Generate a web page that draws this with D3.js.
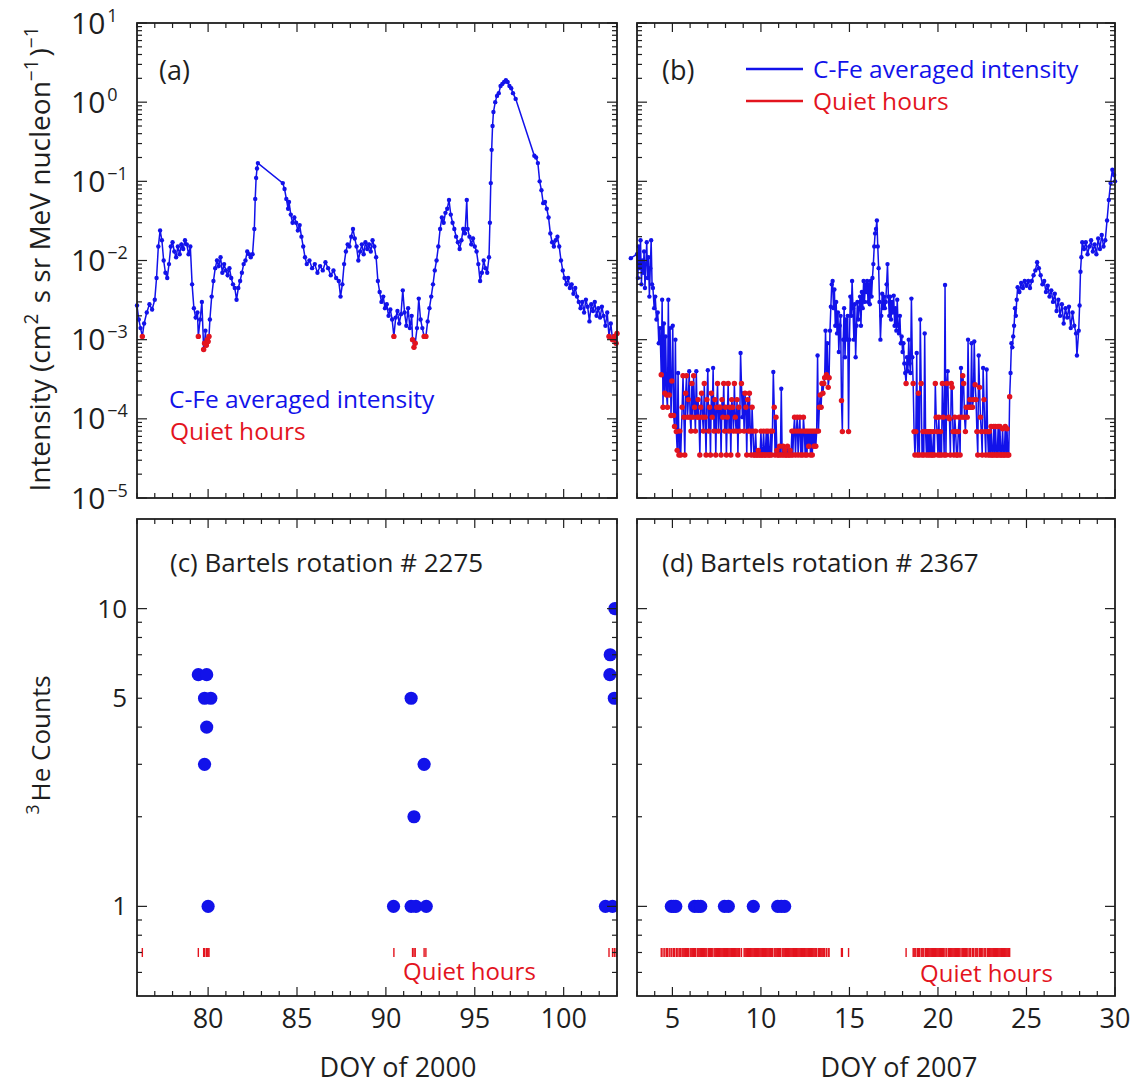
<!DOCTYPE html>
<html><head><meta charset="utf-8">
<script src="https://cdn.jsdelivr.net/npm/d3@7"></script>
<style>
body{margin:0;background:#fff;}
svg{display:block;font-family:'Open Sans','Noto Sans',sans-serif;}
</style></head><body>
<svg id="chart" width="1136" height="1087"></svg>
<script>
// ---------------- DATA ----------------
// C-Fe averaged intensity, Bartels rotation 2275 (DOY of 2000): [doy, intensity, quietHour(1/0)]
const intensity2000 = [
[76.00,2.7e-3,0],[76.10,1.8e-3,0],[76.20,1.4e-3,0],[76.30,1.1e-3,1],[76.40,1.6e-3,0],[76.55,2.2e-3,0],[76.70,2.8e-3,0],[76.85,2.4e-3,0],
[77.00,3.2e-3,0],[77.10,6.0e-3,0],[77.20,1.5e-2,0],[77.30,2.4e-2,0],[77.40,1.8e-2,0],[77.50,1.0e-2,0],[77.60,7.0e-3,0],[77.70,6.0e-3,0],
[77.80,9.0e-3,0],[77.90,1.5e-2,0],[78.00,1.7e-2,0],[78.10,1.3e-2,0],[78.20,1.1e-2,0],[78.30,1.5e-2,0],[78.40,1.2e-2,0],[78.50,1.6e-2,0],
[78.60,1.4e-2,0],[78.70,1.8e-2,0],[78.80,1.6e-2,0],[78.90,1.2e-2,0],[79.00,1.5e-2,0],[79.10,5.0e-3,0],[79.20,2.5e-3,0],[79.30,1.9e-3,0],
[79.40,2.2e-3,0],[79.45,1.1e-3,1],[79.55,1.8e-3,0],[79.65,3.0e-3,0],[79.75,7.5e-4,1],[79.80,9.0e-4,1],[79.85,1.3e-3,0],[79.90,8.5e-4,1],
[79.95,1.0e-3,1],[80.00,9.5e-4,1],[80.05,1.1e-3,1],[80.10,1.8e-3,0],[80.20,3.5e-3,0],[80.30,5.5e-3,0],[80.40,8.0e-3,0],[80.50,1.0e-2,0],
[80.60,8.5e-3,0],[80.70,1.1e-2,0],[80.80,7.0e-3,0],[80.90,9.0e-3,0],[81.00,7.5e-3,0],[81.10,6.5e-3,0],[81.20,8.0e-3,0],[81.30,6.0e-3,0],
[81.40,5.0e-3,0],[81.50,4.5e-3,0],[81.60,3.2e-3,0],[81.70,4.5e-3,0],[81.80,5.5e-3,0],[81.90,7.0e-3,0],[82.00,9.0e-3,0],[82.10,1.0e-2,0],
[82.20,1.3e-2,0],[82.30,1.2e-2,0],[82.40,1.1e-2,0],[82.50,1.2e-2,0],[82.60,2.5e-2,0],[82.65,6.0e-2,0],[82.70,1.1e-1,0],[82.75,1.45e-1,0],
[82.80,1.7e-1,0],
[84.20,9.5e-2,0],[84.30,8.0e-2,0],[84.40,6.0e-2,0],[84.50,4.5e-2,0],[84.55,5.5e-2,0],[84.65,3.8e-2,0],[84.75,3.0e-2,0],[84.85,3.5e-2,0],
[84.95,3.0e-2,0],[85.05,2.4e-2,0],[85.15,2.8e-2,0],[85.25,2.0e-2,0],[85.35,1.5e-2,0],[85.45,1.1e-2,0],[85.55,9.0e-3,0],[85.70,1.0e-2,0],
[85.85,8.0e-3,0],[86.00,9.0e-3,0],[86.15,7.0e-3,0],[86.30,8.5e-3,0],[86.45,7.5e-3,0],[86.60,9.5e-3,0],[86.75,8.0e-3,0],[86.90,6.5e-3,0],
[87.05,7.5e-3,0],[87.20,6.0e-3,0],[87.35,5.5e-3,0],[87.45,3.5e-3,0],[87.55,5.0e-3,0],[87.65,9.0e-3,0],[87.75,1.3e-2,0],[87.85,1.6e-2,0],
[87.95,1.5e-2,0],[88.05,2.0e-2,0],[88.15,2.5e-2,0],[88.25,1.9e-2,0],[88.35,1.5e-2,0],[88.45,1.0e-2,0],[88.55,1.3e-2,0],[88.65,1.6e-2,0],
[88.75,1.2e-2,0],[88.85,1.7e-2,0],[88.95,1.4e-2,0],[89.05,1.6e-2,0],[89.15,1.3e-2,0],[89.25,1.8e-2,0],[89.35,1.5e-2,0],[89.45,1.1e-2,0],
[89.55,5.5e-3,0],[89.65,4.0e-3,0],[89.75,3.0e-3,0],[89.85,3.5e-3,0],[89.95,2.5e-3,0],[90.05,2.8e-3,0],[90.15,2.0e-3,0],[90.25,2.4e-3,0],
[90.35,1.8e-3,0],[90.45,1.1e-3,1],[90.55,1.9e-3,0],[90.65,2.3e-3,0],[90.75,1.6e-3,0],[90.85,2.1e-3,0],[90.95,4.2e-3,0],[91.05,2.2e-3,0],
[91.15,1.5e-3,0],[91.25,2.5e-3,0],[91.35,1.4e-3,0],[91.45,2.0e-3,0],[91.50,1.0e-3,1],[91.58,8.0e-4,1],[91.65,9.0e-4,1],[91.75,1.4e-3,0],
[91.85,3.3e-3,0],[91.95,1.8e-3,0],[92.05,1.4e-3,0],[92.15,1.1e-3,1],[92.25,1.1e-3,1],[92.35,1.7e-3,0],[92.45,2.5e-3,0],[92.55,3.5e-3,0],
[92.65,5.0e-3,0],[92.75,7.5e-3,0],[92.85,1.0e-2,0],[92.95,1.5e-2,0],[93.05,2.5e-2,0],[93.15,3.5e-2,0],[93.25,3.0e-2,0],[93.35,4.0e-2,0],
[93.45,4.5e-2,0],[93.55,5.8e-2,0],[93.65,3.8e-2,0],[93.75,3.0e-2,0],[93.85,2.5e-2,0],[93.95,2.0e-2,0],[94.05,1.7e-2,0],[94.15,1.4e-2,0],
[94.25,1.8e-2,0],[94.35,2.5e-2,0],[94.45,2.2e-2,0],[94.55,5.8e-2,0],[94.60,2.5e-2,0],[94.70,2.0e-2,0],[94.80,1.6e-2,0],[94.90,1.9e-2,0],
[95.00,1.5e-2,0],[95.10,1.3e-2,0],[95.20,9.0e-3,0],[95.30,5.5e-3,0],[95.40,7.0e-3,0],[95.50,1.0e-2,0],[95.60,8.0e-3,0],[95.70,7.0e-3,0],
[95.80,1.1e-2,0],[95.85,3.0e-2,0],[95.90,9.5e-2,0],[95.95,2.5e-1,0],[96.00,5.0e-1,0],[96.05,7.5e-1,0],[96.15,1.0,0],[96.25,1.2,0],
[96.35,1.3,0],[96.45,1.6,0],[96.55,1.7,0],[96.65,1.8,0],[96.75,1.9,0],[96.85,1.8,0],[96.95,1.6,0],[97.05,1.5,0],[97.15,1.3,0],[97.30,1.1,0],
[98.35,2.1e-1,0],[98.45,2.0e-1,0],[98.55,1.7e-1,0],[98.65,1.0e-1,0],[98.75,7.7e-2,0],[98.85,5.3e-2,0],[98.95,5.5e-2,0],[99.05,4.5e-2,0],
[99.15,3.5e-2,0],[99.25,2.2e-2,0],[99.35,1.7e-2,0],[99.45,1.5e-2,0],[99.55,1.8e-2,0],[99.65,2.0e-2,0],[99.75,1.5e-2,0],[99.85,1.0e-2,0],
[99.95,7.5e-3,0],[100.05,6.0e-3,0],[100.15,5.0e-3,0],[100.25,6.0e-3,0],[100.35,4.5e-3,0],[100.45,5.0e-3,0],[100.55,3.8e-3,0],[100.65,4.5e-3,0],
[100.75,3.5e-3,0],[100.85,3.0e-3,0],[100.95,2.5e-3,0],[101.05,3.0e-3,0],[101.15,2.2e-3,0],[101.25,3.2e-3,0],[101.35,2.6e-3,0],[101.45,1.7e-3,0],
[101.55,2.8e-3,0],[101.65,2.3e-3,0],[101.75,3.0e-3,0],[101.85,2.0e-3,0],[101.95,2.5e-3,0],[102.05,1.9e-3,0],[102.15,2.6e-3,0],[102.25,2.0e-3,0],
[102.35,1.5e-3,0],[102.45,2.2e-3,0],[102.55,1.1e-3,1],[102.65,1.6e-3,0],[102.75,1.0e-3,1],[102.85,1.1e-3,1],[102.95,9.0e-4,1],[103.00,1.2e-3,1]
];

// C-Fe averaged intensity, Bartels rotation 2367 (DOY of 2007): [doy, intensity, quietHour(1/0)]
const intensity2007 = [
[2.65,1.07e-2,0],
[3.00,1.2e-2,0],[3.05,6.0e-3,0],[3.10,1.5e-2,0],[3.15,8.0e-3,0],[3.20,1.8e-2,0],[3.25,5.0e-3,0],[3.30,1.0e-2,0],[3.35,7.0e-3,0],
[3.40,1.3e-2,0],[3.45,4.5e-3,0],[3.50,9.0e-3,0],[3.55,1.7e-2,0],[3.60,6.0e-3,0],[3.65,1.1e-2,0],[3.70,3.5e-3,0],[3.75,8.0e-3,0],
[3.80,1.8e-2,0],[3.85,5.0e-3,0],[3.90,4.5e-3,0],[3.97,2.5e-3,0],[4.03,3.5e-3,0],[4.10,1.8e-3,0],[4.17,2.2e-3,0],[4.23,9.0e-4,0],
[4.30,1.4e-3,0],[4.37,3.6e-4,1],[4.42,3.2e-3,0],[4.47,1.4e-4,1],[4.52,1.6e-3,0],[4.57,2.1e-4,1],[4.62,1.1e-3,0],[4.67,2.0e-4,1],
[4.72,1.4e-4,1],[4.77,3.2e-3,0],[4.82,2.0e-4,1],[4.87,1.4e-3,0],[4.92,1.1e-4,1],[4.97,3.0e-4,1],[5.02,1.5e-3,0],[5.07,1.1e-4,1],
[5.12,8.0e-5,1],[5.17,1.0e-3,0],[5.22,6.9e-5,1],[5.27,4.0e-5,1],[5.32,3.8e-4,0],[5.37,3.5e-5,1],[5.42,7.0e-5,1],[5.47,3.5e-5,1],
[5.55,1.4e-4,1],[5.60,3.5e-4,1],[5.65,1.05e-4,1],[5.70,3.5e-5,1],[5.75,2.1e-4,1],[5.80,3.5e-4,1],[5.85,1.05e-4,1],[5.90,1.75e-4,1],
[5.95,4.0e-4,0],[6.00,1.05e-4,1],[6.05,7.0e-5,1],[6.10,2.8e-4,1],[6.15,1.05e-4,1],[6.20,3.5e-4,1],[6.25,1.4e-4,1],[6.30,7.0e-5,1],
[6.35,4.0e-4,0],[6.40,1.05e-4,1],[6.45,1.75e-4,1],[6.50,1.05e-4,1],[6.55,3.5e-5,1],[6.60,1.4e-4,1],[6.65,2.1e-4,1],[6.70,1.05e-4,1],
[6.75,7.0e-5,1],[6.80,2.8e-4,1],[6.85,1.05e-4,1],[6.90,3.5e-5,1],[6.95,1.75e-4,1],[7.00,4.1e-4,0],[7.05,7.0e-5,1],[7.10,1.4e-4,1],
[7.15,3.5e-5,1],[7.20,2.1e-4,1],[7.25,1.05e-4,1],[7.30,4.4e-4,0],[7.35,7.0e-5,1],[7.40,1.75e-4,1],[7.45,3.5e-5,1],[7.50,1.4e-4,1],
[7.55,2.8e-4,1],[7.60,7.0e-5,1],[7.65,1.4e-4,1],[7.70,1.4e-4,1],[7.75,3.5e-5,1],[7.80,1.75e-4,1],[7.85,1.05e-4,1],[7.90,2.8e-4,1],
[7.95,7.0e-5,1],[8.00,1.4e-4,1],[8.05,3.5e-5,1],[8.10,1.05e-4,1],[8.15,2.8e-4,1],[8.20,7.0e-5,1],[8.25,1.4e-4,1],[8.30,3.5e-5,1],
[8.35,1.75e-4,1],[8.40,1.4e-4,1],[8.45,7.0e-5,1],[8.50,2.8e-4,1],[8.55,1.05e-4,1],[8.60,7.0e-5,1],[8.65,1.75e-4,1],[8.70,3.5e-5,1],
[8.75,1.4e-4,1],[8.80,7.0e-5,1],[8.85,6.8e-4,0],[8.90,2.8e-4,1],[8.95,1.05e-4,0],[9.00,2.1e-4,0],[9.05,7.0e-5,1],[9.10,2.1e-4,1],
[9.15,1.4e-4,1],[9.20,3.5e-5,1],[9.25,1.75e-4,1],[9.30,7.0e-5,1],[9.35,2.1e-4,1],[9.40,7.0e-5,1],[9.45,3.5e-5,1],[9.50,1.4e-4,1],
[9.55,7.0e-5,1],[9.60,3.5e-5,1],[9.65,3.5e-5,1],[9.70,7.0e-5,1],[9.75,3.5e-5,1],[9.80,3.5e-5,1],[9.85,4.0e-5,1],[9.90,3.5e-5,1],
[9.95,3.5e-5,1],[10.00,7.0e-5,1],[10.05,3.5e-5,1],[10.10,3.5e-5,1],[10.15,7.0e-5,1],[10.20,3.5e-5,1],[10.25,3.5e-5,1],[10.30,7.0e-5,1],
[10.35,3.5e-5,1],[10.40,7.0e-5,1],[10.45,3.5e-5,1],[10.50,3.5e-5,1],[10.55,7.0e-5,1],[10.60,3.5e-5,1],[10.65,7.0e-5,1],[10.70,3.9e-4,0],
[10.75,1.4e-4,1],[10.80,3.5e-5,1],[10.85,1.05e-4,1],[10.90,4.0e-5,1],[10.95,3.5e-5,1],[11.00,3.5e-5,1],[11.05,4.5e-5,1],[11.10,3.5e-5,1],
[11.15,2.4e-4,0],[11.20,3.5e-5,1],[11.25,4.5e-5,1],[11.30,3.5e-5,1],[11.35,4.0e-5,1],[11.40,3.5e-5,1],[11.45,3.5e-5,1],[11.50,4.5e-5,1],
[11.55,3.5e-5,1],[11.60,3.5e-5,1],[11.65,4.0e-5,1],[11.70,3.5e-5,1],[11.75,7.0e-5,1],[11.80,3.5e-5,1],[11.85,7.0e-5,1],[11.90,1.05e-4,1],
[11.95,3.5e-5,1],[12.00,7.0e-5,1],[12.05,1.05e-4,1],[12.10,3.5e-5,1],[12.15,7.0e-5,1],[12.20,1.05e-4,1],[12.25,3.5e-5,1],[12.30,7.0e-5,1],
[12.35,3.5e-5,1],[12.40,1.05e-4,1],[12.45,7.0e-5,1],[12.50,3.5e-5,1],[12.55,7.0e-5,1],[12.60,3.5e-5,1],[12.65,7.0e-5,1],[12.70,4.5e-5,1],
[12.75,7.0e-5,1],[12.80,3.5e-5,1],[12.85,7.0e-5,1],[12.90,3.5e-5,1],[12.95,7.0e-5,1],[13.00,4.5e-5,1],[13.05,7.0e-5,1],[13.10,4.5e-5,1],
[13.15,7.0e-5,1],[13.20,6.3e-4,0],[13.25,7.0e-5,1],[13.30,1.4e-4,1],[13.35,2.0e-4,1],[13.40,1.4e-4,1],[13.45,2.8e-4,1],[13.50,2.1e-4,1],
[13.55,2.8e-4,1],[13.60,3.3e-4,1],[13.65,1.3e-3,0],[13.70,3.6e-4,1],[13.75,9.0e-4,0],[13.80,2.5e-4,1],[13.85,3.3e-4,1],[13.90,1.3e-3,0],
[13.95,2.6e-3,0],[14.00,5.0e-3,0],[14.05,5.5e-3,0],[14.10,2.5e-3,0],[14.15,4.3e-3,0],[14.20,1.5e-3,0],[14.25,3.0e-3,0],[14.30,1.2e-3,0],
[14.35,2.2e-3,0],[14.40,7.0e-4,0],[14.45,1.5e-3,0],[14.50,2.0e-3,0],[14.55,1.7e-4,1],[14.60,6.9e-5,1],[14.65,1.0e-3,0],[14.70,2.5e-3,0],
[14.75,6.0e-4,0],[14.80,1.8e-3,0],[14.85,1.0e-3,0],[14.90,2.0e-3,0],[14.95,6.9e-5,1],[15.00,1.0e-3,0],[15.05,3.5e-3,0],[15.10,2.0e-3,0],
[15.15,5.5e-3,0],[15.20,2.5e-3,0],[15.25,1.0e-3,0],[15.30,2.8e-3,0],[15.35,6.0e-4,0],[15.40,1.5e-3,0],[15.45,3.0e-3,0],[15.50,1.8e-3,0],
[15.55,2.5e-3,0],[15.60,3.5e-3,0],[15.65,1.5e-3,0],[15.70,4.0e-3,0],[15.75,2.5e-3,0],[15.80,5.5e-3,0],[15.85,3.0e-3,0],[15.90,5.0e-3,0],
[15.95,4.0e-3,0],[16.00,5.5e-3,0],[16.05,3.0e-3,0],[16.10,5.0e-3,0],[16.15,2.8e-3,0],[16.20,5.5e-3,0],[16.25,3.5e-3,0],[16.30,6.0e-3,0],
[16.35,9.0e-3,0],[16.40,1.5e-2,0],[16.45,2.2e-2,0],[16.50,2.5e-2,0],[16.55,3.2e-2,0],[16.60,1.5e-2,0],[16.65,8.0e-3,0],[16.70,3.0e-3,0],
[16.75,1.0e-3,0],[16.80,2.0e-3,0],[16.85,3.8e-3,0],[16.90,2.5e-3,0],[16.95,3.5e-3,0],[17.00,2.5e-3,0],[17.05,3.0e-3,0],[17.10,5.0e-3,0],
[17.15,9.0e-3,0],[17.20,3.5e-3,0],[17.25,2.0e-3,0],[17.30,3.5e-3,0],[17.35,1.8e-3,0],[17.40,3.0e-3,0],[17.45,2.2e-3,0],[17.50,3.6e-3,0],
[17.55,1.5e-3,0],[17.60,2.5e-3,0],[17.65,1.3e-3,0],[17.70,3.2e-3,0],[17.75,1.5e-3,0],[17.80,1.2e-3,0],[17.85,2.0e-3,0],[17.90,9.0e-4,0],
[17.95,1.1e-3,0],[18.00,7.0e-4,0],[18.05,9.0e-4,0],[18.10,5.0e-4,0],[18.15,3.8e-4,0],[18.20,2.8e-4,1],[18.25,6.0e-4,0],[18.30,4.0e-4,0],
[18.35,1.0e-3,0],[18.40,5.0e-4,0],[18.45,3.8e-4,0],[18.50,3.3e-3,0],[18.55,6.0e-4,0],[18.60,2.8e-4,1],[18.65,6.9e-5,1],[18.70,3.5e-5,1],
[18.75,6.9e-5,1],[18.80,6.8e-4,0],[18.85,3.5e-5,1],[18.90,2.1e-4,1],[18.95,3.5e-5,1],[19.00,1.8e-3,0],[19.05,2.8e-4,1],[19.10,3.5e-5,1],
[19.15,6.9e-5,1],[19.20,3.5e-5,1],[19.25,1.2e-3,0],[19.30,6.9e-5,1],[19.35,3.5e-5,1],[19.40,6.9e-5,1],[19.45,3.5e-5,1],[19.50,6.9e-5,1],
[19.55,3.5e-5,1],[19.60,6.9e-5,1],[19.65,3.5e-5,1],[19.70,3.5e-5,1],[19.75,6.9e-5,1],[19.80,3.5e-5,1],[19.85,2.8e-4,1],[19.90,1.05e-4,1],
[19.95,6.9e-5,1],[20.00,3.5e-5,1],[20.05,1.05e-4,1],[20.10,3.5e-5,1],[20.15,6.9e-5,1],[20.20,3.5e-5,1],[20.25,2.8e-4,1],[20.30,1.05e-4,1],
[20.35,3.5e-5,1],[20.40,4.9e-3,0],[20.45,3.5e-5,1],[20.50,2.8e-4,1],[20.55,4.0e-4,0],[20.60,1.05e-4,1],[20.65,1.0e-4,1],[20.70,3.5e-5,1],
[20.75,2.8e-4,1],[20.80,2.5e-4,1],[20.85,6.9e-5,1],[20.90,3.5e-5,1],[20.95,1.05e-4,1],[21.00,6.9e-5,1],[21.05,3.5e-5,1],[21.10,3.5e-5,1],
[21.15,6.9e-5,1],[21.20,1.05e-4,1],[21.25,3.5e-5,1],[21.30,4.4e-4,0],[21.35,1.05e-4,1],[21.40,3.5e-4,1],[21.45,2.8e-4,1],[21.50,1.05e-4,1],
[21.55,6.9e-5,1],[21.60,1.4e-4,1],[21.65,1.05e-4,1],[21.70,1.0e-3,0],[21.75,1.4e-4,1],[21.80,1.75e-4,1],[21.85,1.4e-4,1],[21.90,9.0e-4,0],
[21.95,1.4e-4,1],[22.00,1.75e-4,1],[22.05,9.5e-4,0],[22.10,2.7e-4,1],[22.15,1.75e-4,1],[22.20,6.9e-5,1],[22.25,3.5e-5,1],[22.30,6.3e-4,0],
[22.35,2.5e-4,1],[22.40,1.05e-4,1],[22.45,6.9e-5,1],[22.50,3.5e-5,1],[22.55,4.4e-4,0],[22.60,1.75e-4,1],[22.65,6.9e-5,1],[22.70,3.5e-5,1],
[22.75,4.2e-4,0],[22.80,6.9e-5,1],[22.85,3.5e-5,1],[22.90,6.9e-5,1],[22.95,3.5e-5,1],[23.00,8.0e-5,1],[23.05,3.5e-5,1],[23.10,3.5e-5,1],
[23.15,8.0e-5,1],[23.20,3.5e-5,1],[23.25,8.0e-5,1],[23.30,3.5e-5,1],[23.35,3.5e-5,1],[23.40,8.0e-5,1],[23.45,3.5e-5,1],[23.50,8.0e-5,1],
[23.55,3.5e-5,1],[23.60,3.5e-5,1],[23.65,7.5e-5,1],[23.70,3.5e-5,1],[23.75,3.5e-5,1],[23.80,8.0e-5,1],[23.85,3.5e-5,1],[23.90,7.5e-5,1],
[23.95,3.5e-5,1],[24.00,3.5e-5,1],[24.05,1.9e-4,1],[24.10,3.8e-4,0],[24.15,9.0e-4,0],[24.20,8.0e-4,0],[24.25,1.1e-3,0],[24.30,1.5e-3,0],
[24.35,2.5e-3,0],[24.40,2.0e-3,0],[24.45,3.2e-3,0],[24.50,4.6e-3,0],[24.60,4.0e-3,0],[24.70,5.2e-3,0],[24.80,4.5e-3,0],[24.90,5.5e-3,0],
[25.00,4.8e-3,0],[25.10,5.5e-3,0],[25.20,4.5e-3,0],[25.30,5.5e-3,0],[25.40,6.5e-3,0],[25.50,7.5e-3,0],[25.60,9.5e-3,0],[25.70,8.0e-3,0],
[25.80,6.5e-3,0],[25.90,5.0e-3,0],[26.00,5.5e-3,0],[26.10,4.0e-3,0],[26.20,4.8e-3,0],[26.30,3.5e-3,0],[26.40,4.2e-3,0],[26.50,3.0e-3,0],
[26.60,3.8e-3,0],[26.70,2.3e-3,0],[26.80,3.2e-3,0],[26.90,2.0e-3,0],[27.00,2.8e-3,0],[27.10,1.6e-3,0],[27.20,2.5e-3,0],[27.30,1.9e-3,0],
[27.40,2.6e-3,0],[27.50,1.4e-3,0],[27.60,2.2e-3,0],[27.70,1.5e-3,0],[27.80,1.2e-3,0],[27.85,6.3e-4,0],[27.95,1.3e-3,0],[28.00,2.7e-3,0],
[28.05,7.2e-3,0],[28.10,1.1e-2,0],[28.15,1.7e-2,0],[28.25,1.4e-2,0],[28.35,1.7e-2,0],[28.45,1.2e-2,0],[28.55,1.5e-2,0],[28.65,1.8e-2,0],
[28.75,1.3e-2,0],[28.85,1.6e-2,0],[28.95,1.2e-2,0],[29.05,1.9e-2,0],[29.15,1.4e-2,0],[29.25,2.1e-2,0],[29.35,1.5e-2,0],[29.45,1.8e-2,0],
[29.55,3.2e-2,0],[29.65,5.8e-2,0],[29.75,9.5e-2,0],[29.85,1.4e-1,0],[29.95,1.2e-1,0],[30.00,1.0e-1,0]
];

// 3He counts: [doy, counts]
const he3Counts2000 = [
[79.45,6],[79.92,6],[79.80,5],[80.15,5],[79.92,4],[79.80,3],[80.00,1],
[91.42,5],[92.15,3],[91.58,2],[90.43,1],[91.42,1],[91.69,1],[92.27,1],
[102.88,10],[102.62,7],[102.60,6],[102.85,5],[102.35,1],[102.75,1]
];
const he3Counts2007 = [
[4.94,1],[5.07,1],[5.19,1],[6.25,1],[6.45,1],[6.60,1],[7.94,1],[8.16,1],[9.57,1],[10.95,1],[11.15,1],[11.34,1]
];

const doyRange2000 = [76, 103];
const doyRange2007 = [3, 30];
const xTickLabels2000 = [80, 85, 90, 95, 100];
const xTickLabels2007 = [5, 10, 15, 20, 25, 30];
const intensityRange = [1e-5, 10];
const intensityTickExponents = [1, 0, -1, -2, -3, -4, -5];
const countsRange = [0.5, 20];
const countsTickLabels = [1, 5, 10];
const quietMarkLevel = 0.7;
const panelTitles = ["(a)", "(b)", "(c) Bartels rotation # 2275", "(d) Bartels rotation # 2367"];
const seriesNames = ["C-Fe averaged intensity", "Quiet hours"];
const xAxisTitles = ["DOY of 2000", "DOY of 2007"];

// ---------------- DRAWING ----------------
const svg = d3.select("#chart");
const BLUE = "#1212ea", RED = "#e3141e", INK = "#1e1e1e";

const boxes = {
  a: {x0:137, x1:617, y0:23, y1:498},
  b: {x0:637, x1:1115, y0:23, y1:498},
  c: {x0:137, x1:617, y0:519, y1:996},
  d: {x0:637, x1:1115, y0:519, y1:996}
};

const xA = d3.scaleLinear().domain(doyRange2000).range([boxes.a.x0, boxes.a.x1]);
const xB = d3.scaleLinear().domain(doyRange2007).range([boxes.b.x0, boxes.b.x1]);
const yA = d3.scaleLog().domain(intensityRange).range([boxes.a.y1, boxes.a.y0]);
const yB = d3.scaleLog().domain(intensityRange).range([boxes.b.y1, boxes.b.y0]);
const yC = d3.scaleLog().domain(countsRange).range([boxes.c.y1, boxes.c.y0]);
const yD = d3.scaleLog().domain(countsRange).range([boxes.d.y1, boxes.d.y0]);

const defs = svg.append("defs");
Object.entries(boxes).forEach(([k,b]) => {
  defs.append("clipPath").attr("id","clip-"+k).append("rect")
    .attr("x",b.x0).attr("y",b.y0).attr("width",b.x1-b.x0).attr("height",b.y1-b.y0);
});

function logTicks(domain) {
  const majors = [], minors = [];
  const e0 = Math.floor(Math.log10(domain[0])), e1 = Math.ceil(Math.log10(domain[1]));
  for (let e = e0; e <= e1; e++) {
    const base = Math.pow(10, e);
    if (base >= domain[0] && base <= domain[1]) majors.push(base);
    for (let k = 2; k <= 9; k++) {
      const v = k * base;
      if (v > domain[0] * 1.0001 && v < domain[1]) minors.push(v);
    }
  }
  return {majors, minors};
}

function drawFrameTicks(b, x, y, xMajors, yLogDomain, noMinorAbove) {
  const g = svg.append("g").attr("stroke", INK).attr("stroke-width", 1.2).attr("fill","none");
  const [d0, d1] = x.domain();
  d3.range(Math.ceil(d0), Math.floor(d1) + 1).forEach(v => {
    const L = xMajors.includes(v) ? 9 : 5;
    const px = x(v);
    g.append("line").attr("x1",px).attr("x2",px).attr("y1",b.y1).attr("y2",b.y1-L);
    g.append("line").attr("x1",px).attr("x2",px).attr("y1",b.y0).attr("y2",b.y0+L);
  });
  const t = logTicks(yLogDomain);
  const minors = t.minors.filter(v => noMinorAbove === undefined || v < noMinorAbove);
  t.majors.forEach(v => {
    const py = y(v);
    g.append("line").attr("x1",b.x0).attr("x2",b.x0+10).attr("y1",py).attr("y2",py);
    g.append("line").attr("x1",b.x1).attr("x2",b.x1-10).attr("y1",py).attr("y2",py);
  });
  minors.forEach(v => {
    const py = y(v);
    g.append("line").attr("x1",b.x0).attr("x2",b.x0+5).attr("y1",py).attr("y2",py);
    g.append("line").attr("x1",b.x1).attr("x2",b.x1-5).attr("y1",py).attr("y2",py);
  });
  svg.append("rect").attr("x",b.x0).attr("y",b.y0).attr("width",b.x1-b.x0).attr("height",b.y1-b.y0)
    .attr("fill","none").attr("stroke",INK).attr("stroke-width",1.8);
}

function drawSeries(data, x, y) {
  const g = svg.append("g");
  const line = d3.line().x(d => x(d[0])).y(d => y(d[1]));
  g.append("path").datum(data).attr("d", line).attr("fill","none").attr("stroke",BLUE).attr("stroke-width",1.5);
  g.selectAll("circle.pt").data(data).join("circle").attr("class","pt")
    .attr("cx", d => x(d[0])).attr("cy", d => y(d[1])).attr("r", 2.2).attr("fill", BLUE);
  g.selectAll("circle.q").data(data.filter(d => d[2] === 1)).join("circle").attr("class","q")
    .attr("cx", d => x(d[0])).attr("cy", d => y(d[1])).attr("r", 2.7).attr("fill", RED);
}

function drawCounts(counts, quietSrc, x, y, clipId) {
  const g = svg.append("g").attr("clip-path", "url(#" + clipId + ")");
  g.selectAll("rect.q").data(quietSrc.filter(d => d[2] === 1)).join("rect").attr("class","q")
    .attr("x", d => x(d[0]) - 0.7).attr("width", 1.4)
    .attr("y", y(quietMarkLevel) - 4.5).attr("height", 9).attr("fill", RED);
  g.selectAll("circle").data(counts).join("circle")
    .attr("cx", d => x(d[0])).attr("cy", d => y(d[1])).attr("r", 6.6).attr("fill", BLUE);
}

drawSeries(intensity2000, xA, yA);
drawSeries(intensity2007, xB, yB);
drawCounts(he3Counts2000, intensity2000, xA, yC, "clip-c");
drawCounts(he3Counts2007, intensity2007, xB, yD, "clip-d");

drawFrameTicks(boxes.a, xA, yA, xTickLabels2000, intensityRange);
drawFrameTicks(boxes.b, xB, yB, xTickLabels2007, intensityRange);
drawFrameTicks(boxes.c, xA, yC, xTickLabels2000, countsRange, 10.5);
drawFrameTicks(boxes.d, xB, yD, xTickLabels2007, countsRange, 10.5);

function addText(x, y, str, size, color, anchor) {
  return svg.append("text").attr("x", x).attr("y", y).attr("font-size", size)
    .attr("fill", color || INK).attr("text-anchor", anchor || "start").text(str);
}

intensityTickExponents.forEach(e => {
  const t = svg.append("text").attr("x", boxes.a.x0 - 66).attr("y", yA(Math.pow(10, e)) + 10.5)
    .attr("font-size", 30).attr("fill", INK);
  t.append("tspan").text("10");
  t.append("tspan").attr("font-size", 18).attr("dy", -12).attr("dx", 2).text(e < 0 ? "\u2212" + (-e) : String(e));
});

countsTickLabels.forEach(v => addText(boxes.c.x0 - 10, yC(v) + 9, String(v), 26, INK, "end"));

xTickLabels2000.forEach(v => addText(xA(v), 1028, String(v), 27, INK, "middle"));
xTickLabels2007.forEach(v => addText(xB(v), 1028, String(v), 27, INK, "middle"));

addText((boxes.c.x0 + boxes.c.x1) / 2 + 21, 1077, xAxisTitles[0], 27, INK, "middle");
addText((boxes.d.x0 + boxes.d.x1) / 2 + 23, 1077, xAxisTitles[1], 27, INK, "middle");

function richRotated(x, y, size, parts) {
  const t = svg.append("text").attr("transform", `translate(${x},${y}) rotate(-90)`)
    .attr("font-size", size).attr("fill", INK).attr("text-anchor", "middle");
  let raised = false;
  parts.forEach(p => {
    const s = t.append("tspan").text(p.t);
    if (p.sup) { s.attr("font-size", size * 0.68).attr("dy", raised ? 0 : -size * 0.42); raised = true; }
    else { if (raised) s.attr("dy", size * 0.42).attr("dx", 3); raised = false; }
  });
  return t;
}
richRotated(50, 259, 28, [
  {t:"Intensity (cm"}, {t:"2", sup:true}, {t:" s sr MeV nucleon"}, {t:"\u22121", sup:true}, {t:")"}, {t:"\u22121", sup:true}
]);
richRotated(50, 745, 26, [{t:"3", sup:true}, {t:"He Counts"}]);

addText(159, 80, panelTitles[0], 27);
addText(662, 80, panelTitles[1], 27);
addText(170, 572, panelTitles[2], 26);
addText(662, 572, panelTitles[3], 26);

addText(169, 408, seriesNames[0], 24.5, BLUE);
addText(170, 440, seriesNames[1], 24.5, RED);

svg.append("line").attr("x1", 746).attr("x2", 803).attr("y1", 69).attr("y2", 69).attr("stroke", BLUE).attr("stroke-width", 2.6);
svg.append("line").attr("x1", 746).attr("x2", 803).attr("y1", 101).attr("y2", 101).attr("stroke", RED).attr("stroke-width", 2.6);
addText(813, 78, seriesNames[0], 24.5, BLUE);
addText(813, 110, seriesNames[1], 24.5, RED);

addText(403, 980, seriesNames[1], 24, RED);
addText(920, 982, seriesNames[1], 24, RED);
</script>
</body></html>
